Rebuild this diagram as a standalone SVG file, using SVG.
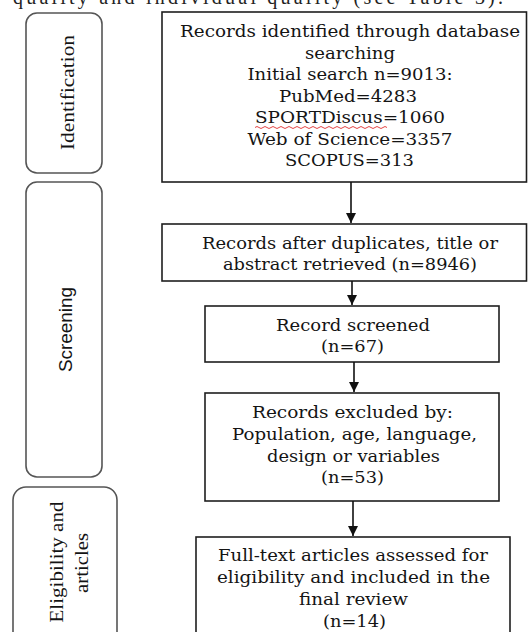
<svg xmlns="http://www.w3.org/2000/svg" width="528" height="632" viewBox="0 0 528 632">
<style>
.box{fill:#fff;stroke:#1e1e1e;stroke-width:1.6}
.phase{fill:#fff;stroke:#555;stroke-width:1.6}
.t{font-family:"DejaVu Serif","Liberation Serif",serif;font-size:16.2px;fill:#141414;text-anchor:middle}
.p{font-family:"Liberation Serif","Times New Roman",serif;font-size:19px;fill:#141414;text-anchor:middle}
.ps{font-family:"Liberation Sans",Arial,sans-serif;font-size:18px;fill:#141414;text-anchor:middle}
.c{stroke:#111;stroke-width:1.6;fill:none}
</style>
<defs>
<marker id="ah" viewBox="0 0 10 10" refX="10" refY="5" markerWidth="10" markerHeight="10" markerUnits="userSpaceOnUse" orient="auto">
<path d="M0,0 L10,5 L0,10 z" fill="#111"/>
</marker>
</defs>
<rect width="528" height="632" fill="#fff"/>
<text x="258" y="4" style="font-family:'Liberation Serif','Times New Roman',serif;font-size:20px;fill:#222" text-anchor="middle" textLength="490" lengthAdjust="spacing">quality and individual quality (see Table 3).</text>

<g id="phase-identification">
<rect class="phase" x="26" y="13" width="76" height="160" rx="11"/>
<text class="p" transform="translate(74,92.5) rotate(-90)" textLength="115" lengthAdjust="spacingAndGlyphs">Identification</text>
</g>
<g id="phase-screening">
<rect class="phase" x="26" y="182" width="76" height="295" rx="11"/>
<text class="ps" transform="translate(72,329.5) rotate(-90)" textLength="85" lengthAdjust="spacingAndGlyphs">Screening</text>
</g>
<g id="phase-eligibility">
<rect class="phase" x="13" y="487" width="104" height="160" rx="13"/>
<text class="p" transform="translate(63,562) rotate(-90)" textLength="121" lengthAdjust="spacingAndGlyphs">Eligibility and</text>
<text class="p" transform="translate(88,563) rotate(-90)" textLength="60" lengthAdjust="spacingAndGlyphs">articles</text>
</g>

<g id="box-identified">
<rect class="box" x="162" y="12" width="364.5" height="170"/>
<text class="t" x="350" y="37" textLength="340" lengthAdjust="spacingAndGlyphs">Records identified through database</text>
<text class="t" x="350" y="58.5" textLength="90" lengthAdjust="spacingAndGlyphs">searching</text>
<text class="t" x="350" y="80" textLength="205" lengthAdjust="spacingAndGlyphs">Initial search n=9013:</text>
<text class="t" x="348" y="101.5" textLength="138" lengthAdjust="spacingAndGlyphs">PubMed=4283</text>
<text class="t" x="350" y="123" textLength="190" lengthAdjust="spacingAndGlyphs">SPORTDiscus=1060</text>
<path d="M255,127.5 q2,-2 4,0 t4,0 t4,0 t4,0 t4,0 t4,0 t4,0 t4,0 t4,0 t4,0 t4,0 t4,0 t4,0 t4,0 t4,0 t4,0 t4,0 t4,0 t4,0 t4,0 t4,0 t4,0 t4,0 t4,0 t4,0 t4,0 t4,0 t4,0 t4,0 t4,0 t4,0 t4,0 t4,0" fill="none" stroke="#e03030" stroke-width="0.9"/>
<text class="t" x="350" y="144.5" textLength="205" lengthAdjust="spacingAndGlyphs">Web of Science=3357</text>
<text class="t" x="349.5" y="166" textLength="129" lengthAdjust="spacingAndGlyphs">SCOPUS=313</text>
</g>

<g id="box-after-duplicates">
<rect class="box" x="162" y="224" width="364.5" height="57"/>
<text class="t" x="350" y="249" textLength="296" lengthAdjust="spacingAndGlyphs">Records after duplicates, title or</text>
<text class="t" x="350" y="270" textLength="254" lengthAdjust="spacingAndGlyphs">abstract retrieved (n=8946)</text>
</g>

<g id="box-screened">
<rect class="box" x="205" y="306" width="294" height="56"/>
<text class="t" x="353" y="331" textLength="154" lengthAdjust="spacingAndGlyphs">Record screened</text>
<text class="t" x="352.5" y="352" textLength="63" lengthAdjust="spacingAndGlyphs">(n=67)</text>
</g>

<g id="box-excluded">
<rect class="box" x="205" y="393" width="294" height="108"/>
<text class="t" x="352.5" y="418" textLength="201" lengthAdjust="spacingAndGlyphs">Records excluded by:</text>
<text class="t" x="354.5" y="440" textLength="245" lengthAdjust="spacingAndGlyphs">Population, age, language,</text>
<text class="t" x="353.5" y="462" textLength="173" lengthAdjust="spacingAndGlyphs">design or variables</text>
<text class="t" x="352.5" y="483" textLength="63" lengthAdjust="spacingAndGlyphs">(n=53)</text>
</g>

<g id="box-included">
<rect class="box" x="196" y="537" width="314" height="110"/>
<text class="t" x="353" y="561" textLength="270" lengthAdjust="spacingAndGlyphs">Full-text articles assessed for</text>
<text class="t" x="353.5" y="583" textLength="273" lengthAdjust="spacingAndGlyphs">eligibility  and included in the</text>
<text class="t" x="353.5" y="605" textLength="109" lengthAdjust="spacingAndGlyphs">final review</text>
<text class="t" x="354.5" y="627" textLength="63" lengthAdjust="spacingAndGlyphs">(n=14)</text>
</g>

<g id="connectors">
<line class="c" x1="351" y1="182" x2="351" y2="223" marker-end="url(#ah)"/>
<line class="c" x1="352" y1="281" x2="352" y2="305" marker-end="url(#ah)"/>
<line class="c" x1="354" y1="362" x2="354" y2="392" marker-end="url(#ah)"/>
<line class="c" x1="353" y1="501" x2="353" y2="536" marker-end="url(#ah)"/>
</g>
</svg>
